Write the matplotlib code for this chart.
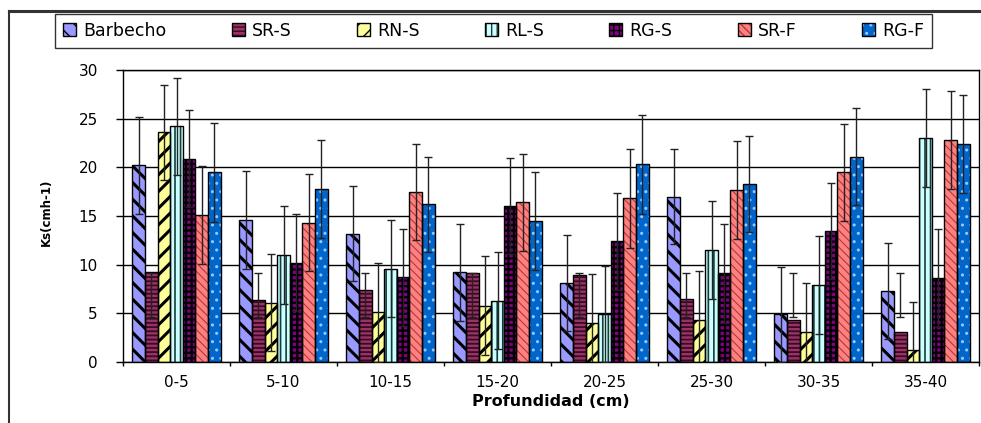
import matplotlib
matplotlib.use('Agg')
import matplotlib.pyplot as plt
from matplotlib.patches import Patch
from matplotlib.lines import Line2D
from matplotlib.legend_handler import HandlerTuple
import numpy as np

plt.rcParams['font.family'] = ['DejaVu Sans']

# Data: Ks (cm h-1) per depth layer
cats = ['0-5', '5-10', '10-15', '15-20', '20-25', '25-30', '30-35', '35-40']
names = ['Barbecho', 'SR-S', 'RN-S', 'RL-S', 'RG-S', 'SR-F', 'RG-F']

barbecho = [20.2, 14.6, 13.2, 9.2, 8.1, 17.0, 4.9, 7.3]
sr_s = [9.2, 6.4, 7.4, 9.1, 8.9, 6.5, 4.3, 3.05]
rn_s = [23.6, 6.1, 5.1, 5.8, 4.0, 4.3, 3.1, 1.2]
rl_s = [24.2, 11.0, 9.6, 6.3, 4.9, 11.5, 7.9, 23.0]
rg_s = [20.9, 10.2, 8.7, 16.05, 12.4, 9.1, 13.45, 8.6]
sr_f = [15.1, 14.3, 17.45, 16.4, 16.8, 17.65, 19.5, 22.8]
rg_f = [19.5, 17.75, 16.2, 14.5, 20.3, 18.3, 21.1, 22.4]

# error bars (+/-) ; SR-S bars have their own low/high limits
err_barbecho = [5.0, 5.0, 4.9, 5.0, 4.95, 4.9, 4.9, 4.95]
err_rn_s = [4.9, 5.0, 5.1, 5.1, 5.0, 5.0, 5.05, 4.95]
err_rl_s = [4.95, 5.0, 5.0, 5.0, 4.95, 5.05, 5.0, 5.0]
err_rg_s = [5.0, 5.0, 4.95, 4.95, 5.0, 5.1, 4.95, 5.05]
err_sr_f = [5.05, 5.0, 4.95, 4.95, 5.1, 5.05, 5.0, 5.0]
err_rg_f = [5.1, 5.05, 4.9, 5.0, 5.05, 4.9, 5.0, 5.0]
srs_lo = [4.6, 4.6, 4.6, 4.6, 4.6, 4.6, 4.6, 4.6]
srs_hi = [9.1, 9.1, 9.1, 9.1, 9.1, 9.1, 9.1, 9.1]

series = [barbecho, sr_s, rn_s, rl_s, rg_s, sr_f, rg_f]
errs = [err_barbecho, None, err_rn_s, err_rl_s, err_rg_s, err_sr_f, err_rg_f]

# fill colour, hatch, hatch colour, hatch width
styles = [('#9999FF', '\\\\', 'black', 2.2),
          ('#993366', '----', '#3a0a24', 1.3),
          ('#FFFF99', '//', 'black', 2.2),
          ('#CCFFFF', '|||', '#1a3a3a', 1.2),
          ('#800080', '+++', 'black', 1.6),
          ('#FF8080', '\\\\\\\\', '#b03a3a', 0.8),
          ('#0066CC', '..', '#9cc8ff', 1.0)]

fig = plt.figure(figsize=(9.81, 4.23), dpi=100)
ax = fig.add_axes([123/981, 61/423, 856/981, 292/423])

x = np.arange(len(cats))
w = 0.118
handles = []
for j, vals in enumerate(series):
    fc, hatch, hc, hlw = styles[j]
    pos = x + (j - 3) * w
    bars = ax.bar(pos, vals, w, color=fc, edgecolor=hc, linewidth=0, hatch=hatch, zorder=2)
    for p in bars:
        if hasattr(p, 'set_hatch_linewidth'):
            p.set_hatch_linewidth(hlw)
    ax.bar(pos, vals, w, fill=False, edgecolor='black', linewidth=1, zorder=3)
    if errs[j] is None:
        mid = (np.array(srs_lo) + np.array(srs_hi)) / 2
        half = (np.array(srs_hi) - np.array(srs_lo)) / 2
        ax.errorbar(pos, mid, yerr=half, fmt='none', ecolor='#222222', elinewidth=1, capsize=3, capthick=1, zorder=4)
    else:
        ax.errorbar(pos, vals, yerr=errs[j], fmt='none', ecolor='#222222', elinewidth=1, capsize=3, capthick=1, zorder=4)
    h1 = Patch(facecolor=fc, edgecolor=hc, linewidth=0, hatch=hatch)
    h2 = Patch(fill=False, edgecolor='black', linewidth=1)
    handles.append((h1, h2))

ax.set_xlim(-0.5, 7.5)
ax.set_ylim(0, 30)
ax.set_yticks(np.arange(0, 31, 5))
ax.yaxis.grid(True, color='black', linewidth=1)
ax.set_axisbelow(True)
ax.set_xticks(x)
ax.set_xticklabels(cats, fontsize=11)
ax.set_xticks(np.arange(-0.5, 8, 1), minor=True)
ax.tick_params(axis='x', which='major', length=0, pad=9)
ax.tick_params(axis='x', which='minor', length=3, width=1)
ax.tick_params(axis='y', length=5, width=1, labelsize=11, pad=13)
for s in ax.spines.values():
    s.set_linewidth(1)
ax.set_xlabel('Profundidad (cm)', fontsize=11.5, fontweight='bold', labelpad=3)
fig.text(46/981, 1 - 212/423, 'Ks(cmh-1)', rotation=90, fontsize=8.5, fontweight='bold',
         ha='center', va='center')

leg = fig.legend(handles, names, ncol=7, loc='upper left', mode='expand',
                 bbox_to_anchor=(55/981, 1 - 48/423, 877/981, 34/423),
                 fontsize=12.5, frameon=True, fancybox=False, edgecolor='black',
                 handlelength=0.75, handleheight=0.75, handletextpad=0.4,
                 borderpad=0.45, borderaxespad=0,
                 handler_map={tuple: HandlerTuple(ndivide=1)})
leg.get_frame().set_linewidth(1)

# page frame lines around the chart
fig.add_artist(Line2D([9/981, 1], [1 - 11/423, 1 - 11/423], color='#333333', lw=2.2, transform=fig.transFigure))
fig.add_artist(Line2D([9/981, 9/981], [0, 1 - 11/423], color='#333333', lw=1.5, transform=fig.transFigure))

plt.savefig('out.png', dpi=100)
